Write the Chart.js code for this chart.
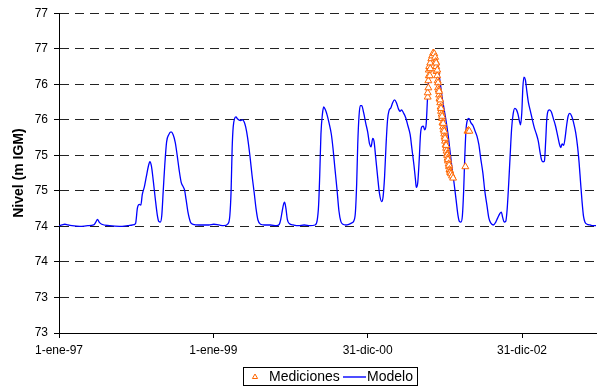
<!DOCTYPE html>
<html>
<head>
<meta charset="utf-8">
<script src="https://cdn.jsdelivr.net/npm/chart.js@4.4.1/dist/chart.umd.min.js"></script>
<style>
  html, body { margin: 0; padding: 0; background: #fff; }
  #wrap { width: 601px; height: 387px; position: relative; }
</style>
</head>
<body>
<div id="wrap"><canvas id="grafico"></canvas></div>
<script>
// Días contados desde el 1-ene-97 y nivel simulado (m IGM)
const modeloDias = [
  0, 14, 28, 42, 61, 99, 136, 164, 174, 182, 190, 202, 239, 286, 324, 347, 362, 371, 380, 387,
  394, 404, 413, 423, 430, 437, 446, 455, 465, 472, 479, 486, 493, 500, 509, 519, 530, 540, 550, 559,
  568, 578, 587, 594, 601, 610, 622, 634, 662, 709, 732, 756, 779, 800, 808, 814, 819, 824, 831, 837,
  845, 858, 869, 876, 883, 892, 904, 913, 923, 932, 941, 953, 972, 1000, 1028, 1042, 1049, 1056, 1063, 1067,
  1073, 1080, 1089, 1108, 1132, 1160, 1188, 1211, 1221, 1228, 1233, 1239, 1246, 1252, 1260, 1268, 1277, 1288, 1296, 1305,
  1315, 1324, 1333, 1343, 1357, 1371, 1385, 1395, 1402, 1408, 1413, 1419, 1425, 1432, 1441, 1451, 1460, 1469, 1476, 1484,
  1490, 1498, 1507, 1516, 1526, 1533, 1540, 1547, 1554, 1561, 1570, 1578, 1587, 1596, 1606, 1613, 1620, 1629, 1640, 1650,
  1661, 1669, 1679, 1686, 1690, 1697, 1704, 1710, 1716, 1723, 1730, 1737, 1743, 1750, 1756, 1763, 1771, 1779, 1789, 1798,
  1805, 1812, 1822, 1831, 1840, 1850, 1859, 1869, 1878, 1887, 1894, 1901, 1908, 1914, 1919, 1925, 1932, 1939, 1948, 1958,
  1967, 1977, 1986, 1995, 2005, 2014, 2024, 2033, 2042, 2054, 2066, 2075, 2085, 2092, 2099, 2106, 2113, 2120, 2127, 2134,
  2141, 2148, 2156, 2164, 2171, 2178, 2183, 2189, 2194, 2199, 2206, 2213, 2220, 2230, 2239, 2249, 2258, 2267, 2275, 2282,
  2289, 2296, 2302, 2307, 2314, 2321, 2329, 2338, 2348, 2357, 2367, 2373, 2380, 2387, 2394, 2401, 2408, 2416, 2425, 2434,
  2444, 2453, 2460, 2467, 2474, 2481, 2488, 2498, 2512, 2526, 2540
];
const modeloNivel = [
  74.01, 74.02, 74.03, 74.02, 74.01, 74.00, 74.01, 74.02, 74.06, 74.10, 74.06, 74.03, 74.01, 74.00, 74.01, 74.02, 74.04, 74.26, 74.31, 74.30,
  74.45, 74.56, 74.70, 74.85, 74.91, 74.85, 74.64, 74.40, 74.16, 74.07, 74.06, 74.15, 74.50, 74.85, 75.19, 75.29, 75.33, 75.29, 75.18, 75.00,
  74.80, 74.62, 74.56, 74.51, 74.38, 74.20, 74.06, 74.03, 74.02, 74.02, 74.03, 74.02, 74.01, 74.04, 74.15, 74.50, 75.10, 75.40, 75.52, 75.54,
  75.51, 75.49, 75.50, 75.47, 75.40, 75.25, 74.97, 74.72, 74.48, 74.25, 74.09, 74.03, 74.02, 74.02, 74.01, 74.03, 74.10, 74.22, 74.32, 74.34,
  74.26, 74.10, 74.04, 74.02, 74.01, 74.02, 74.01, 74.02, 74.08, 74.30, 74.70, 75.30, 75.58, 75.68, 75.64, 75.57, 75.46, 75.30, 75.10, 74.82,
  74.52, 74.22, 74.07, 74.03, 74.02, 74.03, 74.05, 74.08, 74.20, 74.60, 75.15, 75.55, 75.70, 75.70, 75.60, 75.45, 75.33, 75.16, 75.12, 75.24,
  75.20, 74.97, 74.70, 74.46, 74.35, 74.42, 74.70, 75.15, 75.50, 75.63, 75.67, 75.74, 75.78, 75.74, 75.65, 75.62, 75.64, 75.60, 75.53, 75.42,
  75.29, 75.10, 74.86, 74.66, 74.55, 74.62, 74.95, 75.30, 75.40, 75.41, 75.36, 75.45, 75.80, 76.15, 76.30, 76.38, 76.44, 76.40, 76.31, 76.13,
  75.98, 75.82, 75.64, 75.48, 75.30, 75.05, 74.82, 74.60, 74.38, 74.16, 74.07, 74.06, 74.15, 74.50, 74.95, 75.35, 75.50, 75.52, 75.46, 75.42,
  75.35, 75.27, 75.15, 74.95, 74.75, 74.50, 74.30, 74.12, 74.05, 74.02, 74.06, 74.12, 74.18, 74.20, 74.12, 74.06, 74.07, 74.25, 74.60, 75.00,
  75.38, 75.58, 75.66, 75.64, 75.58, 75.48, 75.43, 75.60, 75.95, 76.10, 76.06, 75.90, 75.75, 75.62, 75.50, 75.38, 75.30, 75.20, 75.05, 74.94,
  74.91, 74.92, 75.20, 75.50, 75.63, 75.64, 75.61, 75.52, 75.42, 75.30, 75.16, 75.11, 75.16, 75.14, 75.25, 75.42, 75.55, 75.59, 75.55, 75.46,
  75.32, 75.12, 74.90, 74.62, 74.35, 74.14, 74.06, 74.03, 74.02, 74.01, 74.01
];

// Niveles medidos
const medicionesDias = [
  1744, 1744, 1747, 1747, 1749, 1749, 1751, 1754, 1756, 1756, 1761, 1765, 1770, 1775, 1779,
  1782, 1784, 1784, 1786, 1789, 1789, 1791, 1793, 1793, 1796, 1798, 1798, 1800, 1803, 1803,
  1805, 1807, 1807, 1810, 1812, 1812, 1814, 1817, 1817, 1819, 1822, 1822, 1824, 1826, 1826,
  1829, 1831, 1831, 1833, 1836, 1836, 1838, 1840, 1840, 1843, 1845, 1845, 1847, 1850, 1850,
  1854, 1859, 1864,
  1922, 1932, 1937, 1941
];
const medicionesNivel = [
  75.82, 75.88, 75.95, 76.05, 76.12, 76.20, 76.25, 76.12, 76.30, 76.22, 76.36, 76.40, 76.44, 76.43, 76.38,
  76.32, 76.25, 76.30, 76.18, 76.12, 76.20, 76.05, 76.02, 75.95, 75.92, 75.85, 75.90, 75.80, 75.74, 75.78,
  75.68, 75.62, 75.66, 75.58, 75.52, 75.55, 75.46, 75.40, 75.45, 75.36, 75.30, 75.34, 75.26, 75.20, 75.24,
  75.15, 75.10, 75.14, 75.06, 75.02, 75.00, 74.96, 74.92, 74.94, 74.88, 74.84, 74.86, 74.80, 74.78, 74.76,
  74.74, 74.71, 74.68,
  74.84, 75.34, 75.35, 75.34
];

const ticksFecha = [0, 730, 1460, 2190];
const diasMax = 2540;
const nivelMin = 72.5, nivelMax = 77, nivelPaso = 0.5;

const meses = ['ene','feb','mar','abr','may','jun','jul','ago','sep','oct','nov','dic'];
const origen = Date.UTC(1997, 0, 1);
function rotuloFecha(dias) {
  const f = new Date(origen + dias * 86400000);
  return f.getUTCDate() + '-' + meses[f.getUTCMonth()] + '-' + String(f.getUTCFullYear()).slice(2);
}

const fuente = 'Liberation Sans, Arial, sans-serif';
const naranja = '#FF6600';
const azul = '#0000FF';

// Leyenda con recuadro bajo el gráfico
const leyenda = {
  id: 'leyenda',
  afterDraw(chart) {
    const ctx = chart.ctx;
    const x0 = 243.5, y0 = 367.5, w = 174, h = 18;
    ctx.save();
    ctx.strokeStyle = '#000';
    ctx.lineWidth = 1;
    ctx.strokeRect(x0, y0, w, h);
    const cy = y0 + h / 2;
    ctx.strokeStyle = naranja;
    ctx.fillStyle = '#fff';
    ctx.lineWidth = 1;
    Chart.helpers.drawPoint(ctx, { pointStyle: 'triangle', radius: 3, borderWidth: 1 }, 255, cy + 0.5);
    ctx.font = '14px ' + fuente;
    ctx.fillStyle = '#000';
    ctx.textBaseline = 'middle';
    ctx.textAlign = 'left';
    ctx.fillText(chart.data.datasets[0].label, 269, cy + 1);
    ctx.strokeStyle = azul;
    ctx.lineWidth = 1.4;
    ctx.beginPath();
    ctx.moveTo(343, cy + 0.5);
    ctx.lineTo(366, cy + 0.5);
    ctx.stroke();
    ctx.fillText(chart.data.datasets[1].label, 367, cy + 1);
    ctx.restore();
  }
};

new Chart(document.getElementById('grafico'), {
  type: 'scatter',
  data: {
    datasets: [
      {
        label: 'Mediciones',
        data: medicionesDias.map((d, i) => ({ x: d, y: medicionesNivel[i] })),
        pointStyle: 'triangle',
        pointRadius: 4,
        pointBorderWidth: 1,
        borderColor: naranja,
        backgroundColor: '#fff',
        showLine: false
      },
      {
        label: 'Modelo',
        data: modeloDias.map((d, i) => ({ x: d, y: modeloNivel[i] })),
        showLine: true,
        borderColor: azul,
        borderWidth: 1.3,
        pointRadius: 0,
        cubicInterpolationMode: 'monotone'
      }
    ]
  },
  options: {
    responsive: true,
    maintainAspectRatio: false,
    animation: false,
    devicePixelRatio: 1,
    layout: { padding: { top: 11, right: 1, bottom: 0, left: 0 } },
    plugins: {
      legend: { display: false },
      tooltip: { enabled: false }
    },
    scales: {
      x: {
        type: 'linear',
        min: 0,
        max: diasMax,
        afterFit(s) { s.height = 54; },
        afterBuildTicks(s) { s.ticks = ticksFecha.map(v => ({ value: v })); },
        grid: { drawOnChartArea: false, drawTicks: true, tickLength: 5, color: '#000' },
        border: { display: true, color: '#000', width: 1 },
        ticks: {
          callback: v => rotuloFecha(v),
          maxRotation: 0,
          autoSkip: false,
          padding: 5,
          color: '#000',
          font: { family: fuente, size: 12 }
        }
      },
      y: {
        min: nivelMin,
        max: nivelMax,
        afterFit(s) { s.width = 59; },
        ticks: {
          stepSize: nivelPaso,
          callback: v => String(Math.round(v)),
          padding: 6,
          color: '#000',
          font: { family: fuente, size: 12 }
        },
        grid: { color: '#222', lineWidth: 1, tickLength: 5, tickColor: '#000', tickBorderDash: [] },
        border: { display: true, color: '#000', width: 1, dash: [9, 6] },
        title: {
          display: true,
          text: 'Nivel (m IGM)',
          color: '#000',
          font: { family: fuente, size: 14, weight: 'bold' },
          padding: { top: 11, bottom: 0 }
        }
      }
    }
  },
  plugins: [leyenda]
});
</script>
</body>
</html>
